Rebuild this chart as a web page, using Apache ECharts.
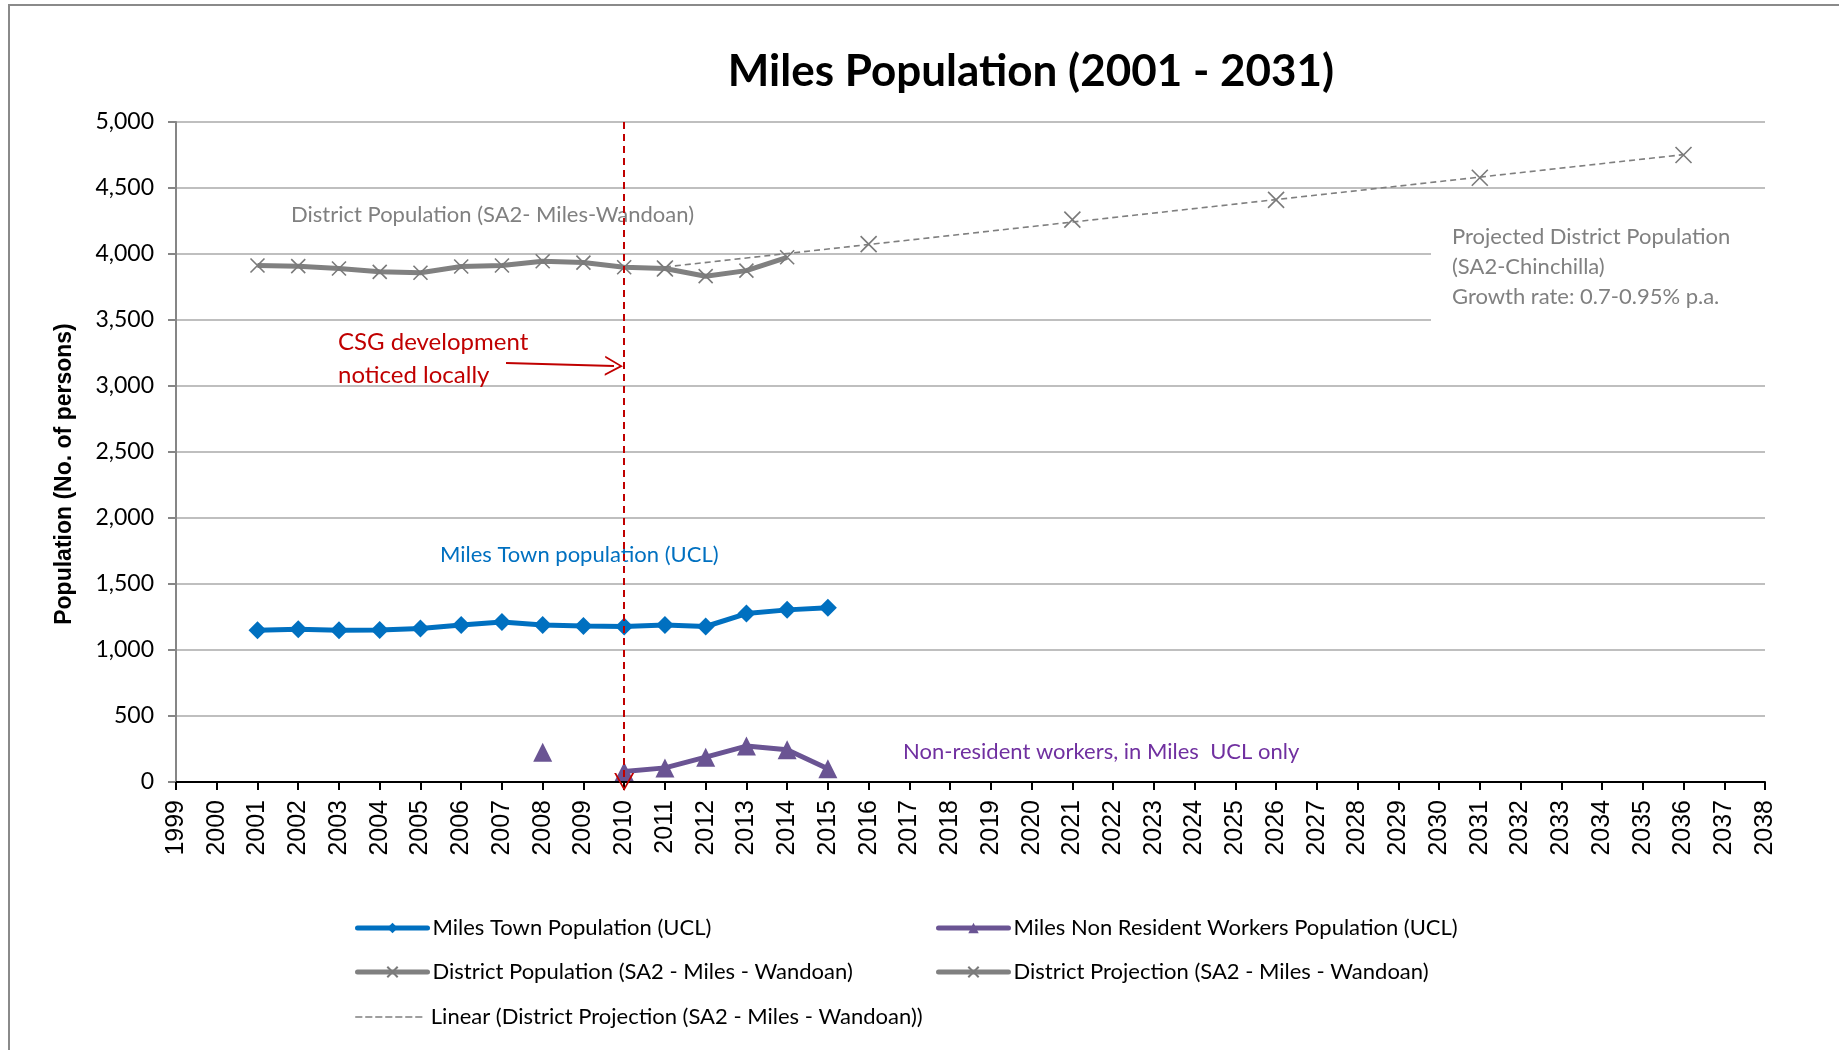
<!DOCTYPE html>
<html><head><meta charset="utf-8">
<script src="https://cdn.jsdelivr.net/npm/echarts@6/dist/echarts.min.js"></script>
<style>html,body{margin:0;padding:0;background:#fff}#c{width:1839px;height:1050px}</style>
</head><body><div id="c"></div>
<script>
// ---- data ----
const townYears = [2001,2002,2003,2004,2005,2006,2007,2008,2009,2010,2011,2012,2013,2014,2015];
const townValues = [1150,1157,1150,1152,1163,1190,1213,1190,1182,1178,1190,1178,1276,1304,1320];
const nrwYears = [2008,2009,2010,2011,2012,2013,2014,2015];
const nrwValues = [225,null,80,107,188,272,244,100];
const districtYears = [2001,2002,2003,2004,2005,2006,2007,2008,2009,2010,2011,2012,2013,2014];
const districtValues = [3913,3908,3890,3865,3858,3905,3913,3945,3935,3900,3890,3832,3874,3975];
const projYears = [2011,2016,2021,2026,2031,2036];
const projValues = [3890,4075,4260,4410,4578,4750];
const csgYear = 2010;
const csgArrow = [[2007.1,3175],[2009.75,3152]];
const seriesNames = ['Miles Town Population (UCL)','Miles Non Resident Workers Population (UCL)','District Population (SA2 - Miles - Wandoan)','District Projection (SA2 - Miles - Wandoan)','Linear (District Projection (SA2 - Miles - Wandoan))'];

// linear trendline (least squares) over the projection series
function linFit(xs, ys){
  const n = xs.length; const mx = xs.reduce((a,b)=>a+b,0)/n; const my = ys.reduce((a,b)=>a+b,0)/n;
  let sxy=0,sxx=0; for(let i=0;i<n;i++){sxy+=(xs[i]-mx)*(ys[i]-my);sxx+=(xs[i]-mx)*(xs[i]-mx);}
  const b=sxy/sxx; return x=>my+b*(x-mx);
}
const fit = linFit(projYears, projValues);
const trendX = [projYears[0], projYears[projYears.length-1]];

const pair = (xs, ys) => xs.map((x,i)=>[x, ys[i]==null?'-':ys[i]]);
// projection points are separate (blank cells between them)
const projData = [];
projYears.forEach((x,i)=>{ if(i) projData.push([x,'-']); projData.push([x,projValues[i]]); });

const XSYM = 'path://M0,0L10,10M10,0L0,10';
const CHEV = 'path://M0,10L5,0L10,10L9,10L5,2L1,10Z';
const FONT = 'Lato';
const RED = '#C00000';

const chart = echarts.init(document.getElementById('c'));
const legendPos = [[350,924],[931,924],[350,968],[931,968],[350,1013]];
const legendLineW = [5,5,5,5,1.6];
chart.setOption({
  animation:false,
  backgroundColor:'#fff',
  grid:{left:176,right:74,top:122,bottom:268},
  xAxis:{type:'value',min:1999,max:2038,interval:1,
    axisLine:{lineStyle:{color:'#000',width:2}},
    axisTick:{show:true,length:8,lineStyle:{color:'#000',width:2}},
    axisLabel:{rotate:90,margin:18,fontFamily:'Liberation Sans',fontSize:25,color:'#000',formatter:v=>String(v)},
    splitLine:{show:false}},
  yAxis:{type:'value',min:0,max:5000,interval:500,
    axisLine:{show:true,lineStyle:{color:'#868686',width:2}},
    axisTick:{show:true,length:8,lineStyle:{color:'#868686',width:2}},
    axisLabel:{margin:22,fontFamily:FONT,fontSize:23,color:'#000',formatter:v=>v.toLocaleString('en-US')},
    splitLine:{lineStyle:{color:'#BFBFBF',width:2}}},
  legend: seriesNames.map((n,i)=>({data:[n],left:legendPos[i][0],top:legendPos[i][1]-12,itemWidth:70,itemHeight:13,itemGap:0,
    lineStyle:{width:legendLineW[i],cap:'round'},
    itemStyle: i===4 ? {opacity:0} : {},
    textStyle:{fontFamily:FONT,fontSize:22,color:'#000',padding:[0,0,0,0]}})),
  series:[
    {name:seriesNames[0],type:'line',data:pair(townYears,townValues),symbol:'diamond',symbolSize:18,
     lineStyle:{color:'#0070C0',width:5},itemStyle:{color:'#0070C0'},z:3,
     markLine:{silent:true,label:{show:false},symbol:['none',CHEV],symbolSize:[20,18],
       data:[
         [{coord:[csgYear,5000],lineStyle:{color:RED,width:2,type:[7,5]}},{coord:[csgYear,0]}],
         [{coord:csgArrow[0],lineStyle:{color:RED,width:2,type:'solid'},symbolSize:[16,12]},{coord:csgArrow[1]}]
       ]}},
    {name:seriesNames[1],type:'line',data:pair(nrwYears,nrwValues),symbol:'triangle',symbolSize:19,
     lineStyle:{color:'#6A5493',width:5},itemStyle:{color:'#6A5493'},z:3},
    {name:seriesNames[2],type:'line',data:pair(districtYears,districtValues),symbol:XSYM,symbolSize:14,
     lineStyle:{color:'#808080',width:5},itemStyle:{color:'rgba(0,0,0,0)',borderColor:'#7A7A7A',borderWidth:1.6},z:3},
    {name:seriesNames[3],type:'line',data:projData,symbol:XSYM,symbolSize:16,
     lineStyle:{color:'#808080',width:5},itemStyle:{color:'rgba(0,0,0,0)',borderColor:'#7A7A7A',borderWidth:1.6},z:4},
    {name:seriesNames[4],type:'line',data:trendX.map(x=>[x,fit(x)]),symbol:'none',
     lineStyle:{color:'#7F7F7F',width:1.6,type:[6,4]},itemStyle:{color:'#7F7F7F'},z:2}
  ],
  graphic:[
    {type:'rect',shape:{x:9,y:5,width:1900,height:1100},style:{fill:'none',stroke:'#8A8A8A',lineWidth:2},z:-1,silent:true},
    {type:'rect',shape:{x:1431,y:198,width:345,height:178},style:{fill:'#fff'},z:1,silent:true},
    {type:'text',z:5,x:1031,y:72,style:{text:'Miles Population (2001 - 2031)',font:'bold 44px Lato',fill:'#000',textAlign:'center',textVerticalAlign:'middle'}},
    {type:'text',z:5,x:65,y:474,rotation:Math.PI/2,style:{text:'Population (No. of persons)',font:'bold 23px "Liberation Sans"',fill:'#000',textAlign:'center',textVerticalAlign:'middle'}},
    {type:'text',z:5,x:291,y:215,style:{text:'District Population (SA2- Miles-Wandoan)',font:'22px Lato',fill:'#808080',textVerticalAlign:'middle'}},
    {type:'text',z:5,x:338,y:342,style:{text:'CSG development',font:'24px Lato',fill:RED,textVerticalAlign:'middle'}},
    {type:'text',z:5,x:338,y:375,style:{text:'noticed locally',font:'24px Lato',fill:RED,textVerticalAlign:'middle'}},
    {type:'text',z:5,x:440,y:555,style:{text:'Miles Town population (UCL)',font:'22px Lato',fill:'#0070C0',textVerticalAlign:'middle'}},
    {type:'text',z:5,x:903,y:752,style:{text:'Non-resident workers, in Miles  UCL only',font:'22px Lato',fill:'#7030A0',textVerticalAlign:'middle'}},
    {type:'text',z:5,x:1452,y:237,style:{text:'Projected District Population',font:'22px Lato',fill:'#808080',textVerticalAlign:'middle'}},
    {type:'text',z:5,x:1452,y:267,style:{text:'(SA2-Chinchilla)',font:'22px Lato',fill:'#808080',textVerticalAlign:'middle'}},
    {type:'text',z:5,x:1452,y:297,style:{text:'Growth rate: 0.7-0.95% p.a.',font:'22px Lato',fill:'#808080',textVerticalAlign:'middle'}}
  ]
});
</script></body></html>
